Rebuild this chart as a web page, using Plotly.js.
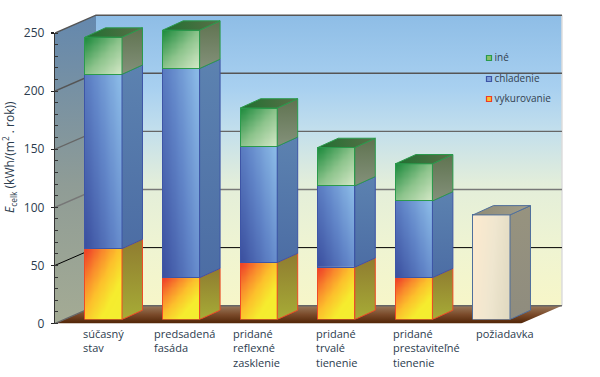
<!DOCTYPE html>
<html><head><meta charset="utf-8">
<script src="https://cdn.plot.ly/plotly-3.0.1.min.js"></script>
<style>html,body{margin:0;padding:0;background:#fff}</style></head>
<body><div id="chart" style="width:600px;height:377px"></div>
<script>
const categories = ['súčasný<br>stav','predsadená<br>fasáda','pridané<br>reflexné<br>zasklenie','pridané<br>trvalé<br>tienenie','pridané<br>prestaviteľné<br>tienenie','požiadavka'];
const heating = [61,36,49,45,36,null];
const cooling = [150,180,100,70,66,null];
const other = [32,33,33,33,32,null];
const requirement = [null,null,null,null,null,90];
const yTicks = [0,50,100,150,200,250];
const gridColors = ['#666','#000','#777','#666','#555','#555'];
const seriesNames = ['iné','chladenie','vykurovanie'];

// scales (pixels per unit of each axis)
const W=600,H=377, pxPerY=1.162, pxPerX=77.6, firstBarPx=103.5;
const axisLeft=55, front0=323.5, bar0=319.5, top250=33;
const toX=p=>(p-firstBarPx)/pxPerX;
const xRange=[toX(axisLeft),toX(W)];
const toY=p=>(front0-p)/pxPerY;
const wallDX=0.528, wallDY=15.3, barDX=0.264, barDY=8, barW=0.477;
const xIdx=categories.map((_,i)=>i);
const lineFont="'Open Sans', sans-serif", txt='#2c3c4e';

const traces=[];
function poly(pts,xa,ya,stops,type,line){
  const p=pts.concat([pts[0]]);
  traces.push({type:'scatter',mode:'lines',xaxis:xa,yaxis:ya,x:p.map(q=>q[0]),y:p.map(q=>q[1]),
    fill:'toself',fillgradient:{type:type,colorscale:stops},
    line:{color:line||'rgba(0,0,0,0)',width:line?1:0},hoverinfo:'skip',showlegend:false});
}
// --- room
const xL=xRange[0], xFR=toX(521), wallTop=250;
poly([[xL+wallDX,wallDY],[xFR+wallDX,wallDY],[xFR+wallDX,wallTop+wallDY],[xL+wallDX,wallTop+wallDY]],'x','y',
 [[0,'#f7f6c8'],[0.2,'#eff4d2'],[0.42,'#e3eeda'],[0.6,'#c3dfec'],[0.75,'#a8d0f0'],[1,'#8ebde6']],'vertical');
poly([[xL,0],[xL+wallDX,wallDY],[xL+wallDX,wallTop+wallDY],[xL,wallTop]],'x','y',
 [[0,'#a4ab94'],[0.45,'#8f9c96'],[1,'#6488ae']],'vertical');
poly([[xL,0],[xFR,0],[xFR+wallDX,wallDY],[xL+wallDX,wallDY]],'x','y',
 [[0,'#502406'],[0.5,'#7a4a2a'],[1,'#9a7a5c']],'vertical');
traces.push({type:'scatter',mode:'lines',xaxis:'x',yaxis:'y',x:[xFR+wallDX,xFR+wallDX],y:[wallDY,wallTop+wallDY],
  line:{color:'#dcdcdc',width:1.5},hoverinfo:'skip',showlegend:false});
yTicks.forEach((v,i)=>{
  traces.push({type:'scatter',mode:'lines',xaxis:'x',yaxis:'y',
    x:[xL,xL+wallDX,xFR+wallDX],y:[v,v+wallDY,v+wallDY],
    line:{color:gridColors[i],width:v==50?1:1.4},hoverinfo:'skip',showlegend:false});
});

// --- bars
const skins={
 heat:{edge:'#ee4a26',front:[[0,'#ee3a28'],[0.25,'#f98a2c'],[0.45,'#fcc02c'],[0.7,'#f6ec2e'],[1,'#f2ee30']],side:[[0,'#a7ac36'],[1,'#8f7c30']],tilt:[.5,.5]},
 cool:{edge:'#3d55a6',front:[[0,'#3a4e9e'],[0.5,'#6185c8'],[1,'#8fc0ea']],side:[[0,'#4c6da4'],[1,'#5c82b0']],tilt:[.6,.4]},
 other:{edge:'#2a9a4c',front:[[0,'#1c8a3c'],[0.5,'#8dc48c'],[1,'#d8eaca']],side:[[0,'#84917a'],[1,'#5f7350']],tilt:[.5,.5],top:[[0,'#1f7030'],[1,'#5a6f48']]},
 req:{edge:'#4f6f9c',front:[[0,'#fdeacf'],[0.5,'#efe6cf'],[1,'#dfd8bf']],side:[[0,'#8f8c7e'],[1,'#97937f']],tilt:[.8,.2],top:[[0,'#8f8b76'],[1,'#a39f8a']]}
};
function face(i,lo,hi,s){
  const n=16,xs=[],ys=[],z=[];
  for(let k=0;k<=n;k++){xs.push(i-barW/2+barW*k/n);ys.push(lo+(hi-lo)*k/n);}
  for(let r=0;r<n;r++){const row=[];for(let c=0;c<n;c++){
    const u=(c+.5)/n,v=(r+.5)/n;
    row.push(s===skins.cool?s.tilt[0]*u+s.tilt[1]*v : s===skins.req? s.tilt[0]*u+s.tilt[1]*(1-v) : (u+(1-v))/2);
  }z.push(row);}
  traces.push({type:'heatmap',xaxis:'x2',yaxis:'y2',x:xs,y:ys,z:z,zmin:0,zmax:1,zsmooth:'best',
    colorscale:s.front,showscale:false,hoverinfo:'skip'});
}
function side(i,lo,hi,s){
  const r=i+barW/2;
  poly([[r,lo],[r+barDX,lo+barDY],[r+barDX,hi+barDY],[r,hi]],'x2','y2',s.side,'vertical',s.edge);
}
function lid(i,t,s){
  const l=i-barW/2,r=i+barW/2;
  poly([[l,t],[r,t],[r+barDX,t+barDY],[l+barDX,t+barDY]],'x2','y2',s.top,'horizontal',s.edge);
}
xIdx.forEach(i=>{
  if(requirement[i]!=null){
    face(i,0,requirement[i],skins.req);side(i,0,requirement[i],skins.req);lid(i,requirement[i],skins.req);
    return;
  }
  const a=heating[i],b=a+cooling[i],c=b+other[i];
  face(i,0,a,skins.heat);face(i,a,b,skins.cool);face(i,b,c,skins.other);
  side(i,0,a,skins.heat);side(i,a,b,skins.cool);side(i,b,c,skins.other);lid(i,c,skins.other);
});
const barT=(name,vals,s)=>({type:'bar',name:name,xaxis:'x2',yaxis:'y2',x:xIdx,y:vals,width:barW,
  marker:{color:'rgba(0,0,0,0)',line:{color:s.edge,width:1}},showlegend:false,hoverinfo:'skip'});
traces.push(barT(seriesNames[2],heating,skins.heat),barT(seriesNames[1],cooling,skins.cool),barT(seriesNames[0],other,skins.other),barT('požiadavka',requirement,skins.req));

// --- key, on the tick subplot
const keyY=[58,79,99].map(toY);
const keyEdge=['#2a9a4c','#3d55a6','#ee3a28'], keyFill=['#8cc06a','#7f9fd8','#f8c02e'];
seriesNames.forEach((n,i)=>{
  traces.push({type:'scatter',mode:'markers',xaxis:'x3',yaxis:'y3',x:[toX(489)],y:[keyY[i]],
    marker:{symbol:'square',size:5,color:keyFill[i],line:{color:keyEdge[i],width:1.2}},hoverinfo:'skip',showlegend:false});
  traces.push({type:'scatter',mode:'text',xaxis:'x3',yaxis:'y3',x:[toX(494.5)],y:[keyY[i]],text:[n],textposition:'middle right',
    textfont:{family:lineFont,size:10,color:'#33414f'},hoverinfo:'skip',showlegend:false});
});

// --- category labels
const labelLeft=[81.5,152.5,231.5,315,391.5,475];
const ann=[];
categories.forEach((c,i)=>ann.push({
  xref:'x3',yref:'paper',x:toX(labelLeft[i]),xanchor:'left',y:1-325/H,yanchor:'top',
  text:c,showarrow:false,borderpad:0,align:'left',font:{family:lineFont,size:11,color:txt}}));
ann.push({xref:'paper',yref:'paper',x:9/W,y:1-157/H,xanchor:'center',yanchor:'middle',textangle:-90,showarrow:false,
  text:'<i>E</i><sub>celk</sub> (kWh/(m<sup>2</sup> . rok))',font:{family:lineFont,size:12,color:txt}});

const hidden=(extra)=>Object.assign({visible:false,fixedrange:true},extra);
const layout={
  width:W,height:H,margin:{l:0,r:0,t:0,b:0,pad:0},paper_bgcolor:'#fff',plot_bgcolor:'rgba(0,0,0,0)',
  barmode:'stack',showlegend:false,annotations:ann,
  xaxis:hidden({domain:[axisLeft/W,1],range:xRange,anchor:'y'}),
  yaxis:hidden({domain:[1-front0/H,1],range:[0,front0/pxPerY],anchor:'x'}),
  xaxis2:hidden({domain:[axisLeft/W,1],range:xRange,anchor:'y2'}),
  yaxis2:hidden({domain:[1-bar0/H,1],range:[0,bar0/pxPerY],anchor:'x2'}),
  xaxis3:hidden({domain:[axisLeft/W,1],range:xRange,anchor:'y3'}),
  yaxis3:{domain:[1-front0/H,1-top250/H],range:[0,250],anchor:'x3',tickmode:'array',tickvals:yTicks,
    ticks:'outside',ticklen:3,tickwidth:1.2,tickcolor:'#222',showgrid:false,zeroline:false,showline:true,
    linecolor:'#333',linewidth:1.2,ticklabelstandoff:4,
    tickfont:{family:lineFont,size:12,color:txt},
    minor:{tickmode:'linear',dtick:10,ticks:'inside',ticklen:3,tickcolor:'#333',tickwidth:1,showgrid:false},fixedrange:true}
};
Plotly.newPlot('chart',traces,layout,{displayModeBar:false,staticPlot:true});
</script></body></html>
